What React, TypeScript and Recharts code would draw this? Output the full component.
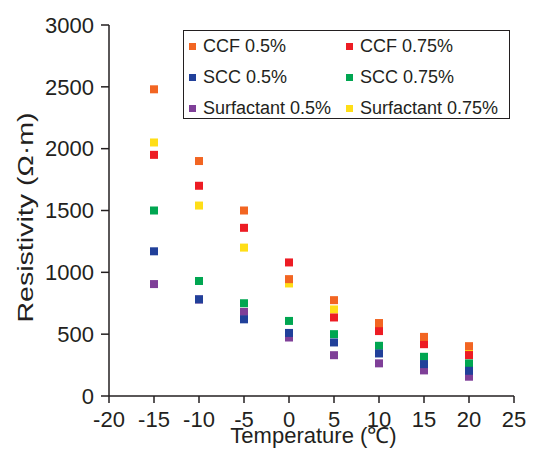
import React from 'react';
import { ScatterChart, Scatter, XAxis, YAxis, Legend } from 'recharts';

const temperatures = [-15, -10, -5, 0, 5, 10, 15, 20];

// resistivity in Ω·m at each temperature
const ccf05 = [2480, 1900, 1500, 945, 775, 590, 478, 403];
const ccf075 = [1950, 1700, 1360, 1080, 635, 525, 419, 331];
const scc05 = [1170, 782, 620, 510, 433, 344, 258, 204];
const scc075 = [1500, 930, 750, 607, 500, 406, 317, 264];
const surf05 = [905, 780, 680, 473, 330, 264, 207, 156];
const surf075 = [2050, 1540, 1200, 910, 700, 555, 450, 367];

const xTicks = [-20, -15, -10, -5, 0, 5, 10, 15, 20, 25];
const yTicks = [0, 500, 1000, 1500, 2000, 2500, 3000];

const INK = '#231F20';
const FONT = '"Liberation Sans", Arial, Helvetica, sans-serif';

const toPoints = (values: number[]) => temperatures.map((t, i) => ({ t, r: values[i] }));

// legend order (row by row, two columns)
const series = [
    { name: 'CCF 0.5%', color: '#F26522', values: ccf05 },
    { name: 'CCF 0.75%', color: '#ED1C24', values: ccf075 },
    { name: 'SCC 0.5%', color: '#21409A', values: scc05 },
    { name: 'SCC 0.75%', color: '#00A651', values: scc075 },
    { name: 'Surfactant 0.5%', color: '#7F3F98', values: surf05 },
    { name: 'Surfactant 0.75%', color: '#FFDE17', values: surf075 },
];

// paint order: later entries sit on top
const drawOrder = ['Surfactant 0.75%', 'Surfactant 0.5%', 'SCC 0.75%', 'SCC 0.5%', 'CCF 0.75%', 'CCF 0.5%'];

const squareShape = (color: string) => (props: any) => (
    <rect x={props.cx - 4} y={props.cy - 4} width={8} height={8} fill={color} />
);

const LegendBox = () => (
    <div
        style={{
            boxSizing: 'border-box',
            width: 327,
            height: 89,
            border: `1.5px solid ${INK}`,
            background: '#fff',
            display: 'grid',
            gridTemplateColumns: '157px 1fr',
            gridAutoRows: '31px',
            fontFamily: FONT,
            fontSize: 18,
            color: INK,
        }}
    >
        {series.map((s) => (
            <div key={s.name} style={{ display: 'flex', alignItems: 'center', paddingLeft: 5, whiteSpace: 'nowrap' }}>
                <span style={{ width: 7, height: 7, background: s.color, marginRight: 7, flex: 'none' }} />
                {s.name}
            </div>
        ))}
    </div>
);

export default function App() {
    return (
        <div style={{ position: 'absolute', left: 0, top: 0, background: '#fff' }}>
            <ScatterChart width={536} height={454} margin={{ top: 25, right: 22, bottom: 8, left: 49 }}>
                <XAxis
                    type="number"
                    dataKey="t"
                    domain={[-20, 25]}
                    ticks={xTicks}
                    height={50}
                    tickSize={7}
                    tickMargin={8}
                    stroke={INK}
                    strokeWidth={1.5}
                    tick={{ fill: INK, fontSize: 22, fontFamily: FONT }}
                    label={{
                        content: ({ viewBox }: any) => (
                            <text
                                x={viewBox.x + viewBox.width / 2 + 2}
                                y={443}
                                textAnchor="middle"
                                fill={INK}
                                fontSize={22}
                                fontFamily={FONT}
                            >
                                Temperature (℃)
                            </text>
                        ),
                    }}
                />
                <XAxis xAxisId="top" orientation="top" type="number" domain={[-20, 25]} height={0} tick={false} tickLine={false} stroke={INK} strokeWidth={1.5} />
                <YAxis
                    type="number"
                    dataKey="r"
                    domain={[0, 3000]}
                    ticks={yTicks}
                    width={60}
                    tickSize={8}
                    tickMargin={7}
                    stroke={INK}
                    strokeWidth={1.5}
                    tick={{ fill: INK, fontSize: 22, fontFamily: FONT }}
                    label={{
                        content: ({ viewBox }: any) => {
                            const x = viewBox.x - 16;
                            const y = viewBox.y + viewBox.height / 2 + 7;
                            return (
                                <text
                                    x={x}
                                    y={y}
                                    transform={`rotate(-90, ${x}, ${y})`}
                                    textAnchor="middle"
                                    fill={INK}
                                    fontSize={22}
                                    fontFamily={FONT}
                                    textLength={210}
                                    lengthAdjust="spacingAndGlyphs"
                                >
                                    Resistivity (Ω·m)
                                </text>
                            );
                        },
                    }}
                />
                <YAxis yAxisId="right" orientation="right" type="number" domain={[0, 3000]} width={0} tick={false} tickLine={false} stroke={INK} strokeWidth={1.5} />
                <Legend
                    layout="horizontal"
                    verticalAlign="middle"
                    align="center"
                    wrapperStyle={{ top: 30, left: 183, width: 327, height: 89 }}
                    content={() => <LegendBox />}
                />
                {drawOrder.map((name) => {
                    const s = series.find((d) => d.name === name)!;
                    return (
                        <Scatter
                            key={s.name}
                            name={s.name}
                            data={toPoints(s.values)}
                            fill={s.color}
                            shape={squareShape(s.color)}
                            isAnimationActive={false}
                        />
                    );
                })}
            </ScatterChart>
        </div>
    );
}
